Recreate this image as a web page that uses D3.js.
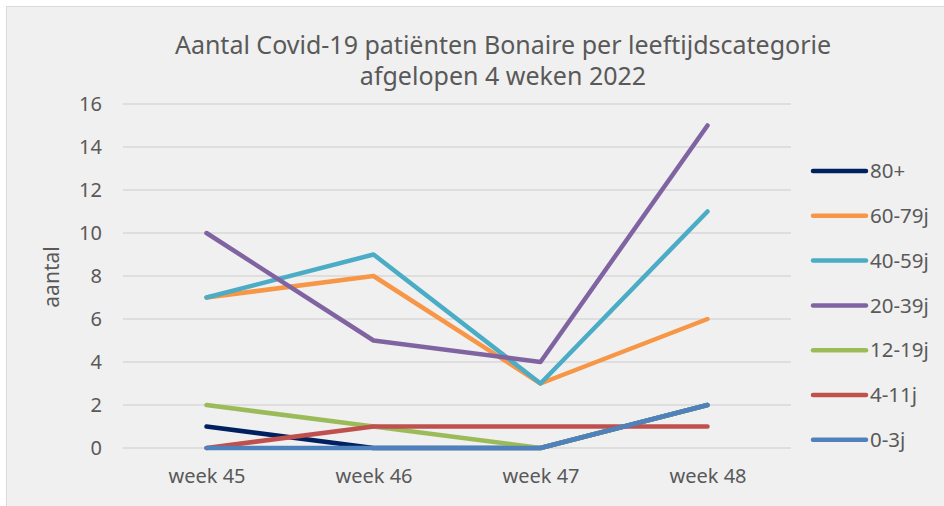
<!DOCTYPE html>
<html>
<head>
<meta charset="utf-8">
<script src="https://cdn.jsdelivr.net/npm/d3@7"></script>
<style>
  html, body { margin: 0; padding: 0; background: #fff; }
  svg { display: block; font-family: "Noto Sans", "Open Sans", sans-serif; }
</style>
</head>
<body>
<div id="chart"></div>
<script>
// categories and series values
var weeks = ["week 45", "week 46", "week 47", "week 48"]
var seriesNames = ["80+", "60-79j", "40-59j", "20-39j", "12-19j", "4-11j", "0-3j"]
var v80 = [1, 0, 0, 2]
var v60 = [7, 8, 3, 6]
var v40 = [7, 9, 3, 11]
var v20 = [10, 5, 4, 15]
var v12 = [2, 1, 0, 2]
var v4 = [0, 1, 1, 1]
var v0 = [0, 0, 0, 2]
var yTicks = [0, 2, 4, 6, 8, 10, 12, 14, 16]
var colors = ["#002060", "#f79646", "#4bacc6", "#8064a2", "#9bbb59", "#c0504d", "#4f81bd"]

var allValues = [v80, v60, v40, v20, v12, v4, v0]

var width = 944, height = 506

var svg = d3.select("#chart").append("svg")
    .attr("width", width)
    .attr("height", height)

// frame
svg.append("rect").attr("x", 0).attr("y", 0).attr("width", width).attr("height", height).attr("fill", "#ffffff")
svg.append("rect").attr("x", 6.5).attr("y", 6.5).attr("width", width).attr("height", height)
    .attr("fill", "#f0f0f0").attr("stroke", "#d9d9d9").attr("stroke-width", 1)

// title
svg.append("text").attr("x", 503).attr("y", 54).attr("text-anchor", "middle")
    .attr("font-size", 25).attr("fill", "#595959")
    .text("Aantal Covid-19 patiënten Bonaire per leeftijdscategorie")
svg.append("text").attr("x", 503).attr("y", 85).attr("text-anchor", "middle")
    .attr("font-size", 25).attr("fill", "#595959")
    .text("afgelopen 4 weken 2022")

// scales
var x = d3.scalePoint().domain(weeks).range([123, 791]).padding(0.5)
var y = d3.scaleLinear().domain([0, 16]).range([448, 104])

// gridlines
svg.append("g").selectAll("line").data(yTicks).enter().append("line")
    .attr("x1", 123).attr("x2", 791)
    .attr("y1", function (d) { return y(d) }).attr("y2", function (d) { return y(d) })
    .attr("stroke", "#d9d9d9").attr("stroke-width", 1.3)

// y axis labels
var yAxis = svg.append("g").attr("transform", "translate(102,0)")
    .call(d3.axisLeft(y).tickValues(yTicks).tickSize(0).tickPadding(0))
yAxis.select(".domain").remove()
yAxis.selectAll("text").attr("font-size", 20).attr("fill", "#595959").attr("font-family", "Noto Sans")

// x axis labels
var xAxis = svg.append("g").attr("transform", "translate(0,469)")
    .call(d3.axisBottom(x).tickSize(0).tickPadding(0))
xAxis.select(".domain").remove()
xAxis.selectAll("text").attr("font-size", 20).attr("fill", "#595959").attr("font-family", "Noto Sans")

// y axis title
svg.append("text").attr("transform", "translate(59,277) rotate(-90)")
    .attr("text-anchor", "middle").attr("font-size", 21).attr("fill", "#595959")
    .text("aantal")

// lines
var line = d3.line()
    .x(function (d, i) { return x(weeks[i]) })
    .y(function (d) { return y(d) })

svg.append("g").selectAll("path").data(allValues).enter().append("path")
    .attr("d", line)
    .attr("fill", "none")
    .attr("stroke", function (d, i) { return colors[i] })
    .attr("stroke-width", 4.5)
    .attr("stroke-linecap", "round")
    .attr("stroke-linejoin", "round")

// legend
var legend = svg.append("g").selectAll("g").data(seriesNames).enter().append("g")
    .attr("transform", function (d, i) { return "translate(0," + (171 + i * 44.8) + ")" })
legend.append("line").attr("x1", 813).attr("x2", 866).attr("y1", 0).attr("y2", 0)
    .attr("stroke", function (d, i) { return colors[i] })
    .attr("stroke-width", 4.5).attr("stroke-linecap", "round")
legend.append("text").attr("x", 870).attr("y", 0).attr("dy", "0.35em")
    .attr("font-size", 20.5).attr("fill", "#595959")
    .text(function (d) { return d })
</script>
</body>
</html>
